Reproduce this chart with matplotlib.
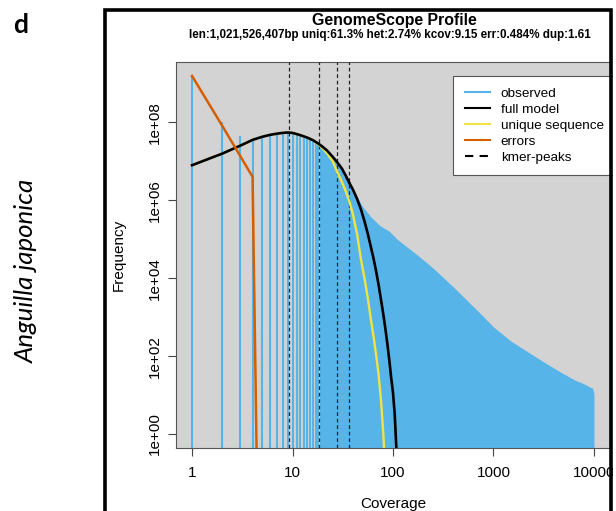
import matplotlib
matplotlib.use("Agg")
import matplotlib.pyplot as plt
from matplotlib.lines import Line2D
from matplotlib.patches import Rectangle

# ---- data -------------------------------------------------------------
# observed k-mer histogram, one bar per coverage value (low coverage)
obs_cov = list(range(1, 41))
obs_freq = [1.55e9, 1.0e8, 4.5e7, 3.4e7, 4.2e7, 4.7e7, 5.1e7, 5.4e7, 5.5e7, 5.4e7,
            5.1e7, 4.7e7, 4.4e7, 4.1e7, 3.7e7, 3.4e7, 3.1e7, 2.8e7, 2.6e7, 2.3e7,
            2.1e7, 1.9e7, 1.7e7, 1.5e7, 1.35e7, 1.2e7, 1.07e7, 9.5e6, 8.5e6, 7.4e6,
            6.6e6, 5.8e6, 5.0e6, 4.4e6, 3.8e6, 3.3e6, 2.9e6, 2.5e6, 2.15e6, 1.86e6]

# observed histogram envelope at high coverage (bars merge into a solid area)
tail_cov = [40, 45, 50, 60, 73, 92, 110, 136, 180, 232, 288, 400, 580, 750,
            1000, 1500, 2290, 3300, 4890, 6500, 7400, 8100, 9080, 9700, 10000]
tail_freq = [1.86e6, 1.1e6, 6.8e5, 3.8e5, 2.3e5, 1.6e5, 1.0e5, 6.5e4, 3.7e4, 2.15e4,
             1.3e4, 5.9e3, 2.3e3, 1.2e3, 560, 240, 120, 66, 36, 24, 21, 19, 16, 15, 11]

# fitted model curves
model_cov = [1, 2, 3, 4, 5, 6, 7, 8, 9, 10, 12, 14, 16, 18, 20, 22, 25, 28, 31, 34,
             37, 40, 44, 48, 52, 56, 60, 64, 68, 72, 76, 80, 84, 88, 92, 96, 100,
             104, 108, 112]
full_model = [7.94e6, 1.58e7, 2.51e7, 3.55e7, 4.27e7, 4.79e7, 5.13e7, 5.37e7, 5.50e7,
              5.37e7, 4.68e7, 4.07e7, 3.47e7, 2.88e7, 2.34e7, 1.91e7, 1.32e7, 9.3e6,
              6.5e6, 4.2e6, 2.7e6, 1.86e6, 1.07e6, 5.8e5, 2.9e5, 1.41e5, 6.6e4, 3.2e4,
              1.48e4, 6.6e3, 2.75e3, 1.2e3, 500, 200, 76, 27, 11.5, 3.2, 0.43, 0.05]
unique_seq = [7.94e6, 1.58e7, 2.51e7, 3.55e7, 4.27e7, 4.79e7, 5.13e7, 5.37e7, 5.50e7,
              5.37e7, 4.68e7, 4.07e7, 3.47e7, 2.75e7, 2.14e7, 1.62e7, 1.02e7, 5.2e6,
              2.95e6, 1.66e6, 8.9e5, 4.2e5, 1.32e5, 3.0e4, 1.0e4, 3.2e3, 930, 320,
              105, 32, 7.1, 1.05, 0.1, 0.01, 0.001, 1e-4, 1e-5, 1e-6, 1e-7, 1e-8]

# error k-mers
err_cov = [1, 2, 3, 4, 5]
err_freq = [1.55e9, 8.1e7, 1.4e7, 4.0e6, 4e-11]

# k-mer peak positions (multiples of kcov)
peak_cov = [9.15, 18.3, 27.45, 36.6]

x_ticks = [1, 10, 100, 1000, 10000]
x_tick_labels = ["1", "10", "100", "1000", "10000"]
y_ticks = [1e0, 1e2, 1e4, 1e6, 1e8]
y_tick_labels = ["1e+00", "1e+02", "1e+04", "1e+06", "1e+08"]

title = "GenomeScope Profile"
subtitle = ("len:1,021,526,407bp uniq:61.3% het:2.74% kcov:9.15 "
            "err:0.484% dup:1.61")

# ---- style ------------------------------------------------------------
C_OBS = "#56B4E9"
C_FULL = "black"
C_UNIQ = "#F0E442"
C_ERR = "#D55E00"
BG = "#D3D3D3"

plt.rcParams["font.family"] = ["Liberation Sans", "DejaVu Sans"]

W, H = 616, 511
fig = plt.figure(figsize=(W / 100, H / 100), dpi=100)
fig.patch.set_facecolor("white")

# axes box in pixel units
ax_l, ax_r, ax_t, ax_b = 176, 610, 61.7, 448.3
ax = fig.add_axes([ax_l / W, 1 - ax_b / H, (ax_r - ax_l) / W, (ax_b - ax_t) / H])
ax.set_facecolor(BG)
ax.set_xscale("log")
ax.set_yscale("log")
ax.set_xlim(10 ** -0.16, 10 ** 4.16)
ax.set_ylim(10 ** -0.3676, 10 ** 9.5576)

floor = 1e-3
ax.vlines(obs_cov, floor, obs_freq, color=C_OBS, lw=1.5, zorder=2)
ax.fill_between(tail_cov, floor, tail_freq, color=C_OBS, lw=0, zorder=2)

for p in peak_cov:
    ax.axvline(p, color="#222222", lw=0.9, ls=(0, (3, 2.2)), zorder=3)

ax.plot(model_cov, unique_seq, color=C_UNIQ, lw=1.7, zorder=4,
        solid_joinstyle="round")
ax.plot(model_cov, full_model, color=C_FULL, lw=1.9, zorder=5,
        solid_joinstyle="round")
ax.plot(err_cov, err_freq, color=C_ERR, lw=1.8, zorder=6)

ax.set_xticks(x_ticks)
ax.set_xticklabels(x_tick_labels)
ax.set_yticks(y_ticks)
ax.set_yticklabels(y_tick_labels, rotation=90, va="center")
ax.minorticks_off()
ax.tick_params(axis="both", direction="out", length=5.5, width=0.8,
               color="#444444", labelsize=11, labelcolor="black")
ax.tick_params(axis="x", pad=7)
ax.tick_params(axis="y", pad=5)
for s in ax.spines.values():
    s.set_color("#555555")
    s.set_linewidth(0.8)

ax.set_xlabel("Coverage", fontsize=11)
ax.set_ylabel("Frequency", fontsize=11)
ax.xaxis.set_label_coords(0.5, (ax_b - 503.5) / (ax_b - ax_t))
ax.xaxis.label.set_va("center")
ax.yaxis.set_label_coords((119 - ax_l) / (ax_r - ax_l), 0.5)
ax.yaxis.label.set_va("center")

handles = [
    Line2D([], [], color=C_OBS, lw=1.5),
    Line2D([], [], color=C_FULL, lw=1.5),
    Line2D([], [], color=C_UNIQ, lw=1.5),
    Line2D([], [], color=C_ERR, lw=1.5),
    Line2D([], [], color="black", lw=1.5, ls=(0, (4, 3))),
]
labels = ["observed", "full model", "unique sequence", "errors", "kmer-peaks"]
leg = ax.legend(handles, labels, loc="upper left",
                bbox_to_anchor=((453.3 - ax_l) / (ax_r - ax_l),
                                (ax_b - 76) / (ax_b - ax_t)),
                borderaxespad=0, fontsize=9.7, handlelength=1.91,
                handletextpad=0.76, borderpad=0.85, labelspacing=0.26,
                fancybox=False, framealpha=1, edgecolor="#555555")
leg.get_frame().set_linewidth(0.8)
leg.set_zorder(10)

fig.text(394 / W, 1 - 20.7 / H, title, ha="center", va="center",
         fontsize=11.4, fontweight="bold")
fig.text(390 / W, 1 - 35 / H, subtitle, ha="center", va="center",
         fontsize=8.4, fontweight="bold")

# panel letter and species name
fig.text(21 / W, 1 - 25 / H, "d", ha="center", va="center",
         fontsize=19, fontweight="bold", family=["Lato", "DejaVu Sans"])
fig.text(26 / W, 1 - 271 / H, "Anguilla japonica", ha="center", va="center",
         rotation=90, fontsize=18.6, style="italic", family=["Lato", "DejaVu Sans"])

# white margin beyond the panel frame, then the frame itself
fig.add_artist(Rectangle((612.5 / W, 0), (W - 612.5) / W, 1,
                         transform=fig.transFigure, facecolor="white",
                         edgecolor="none", zorder=20))
fig.add_artist(Rectangle((104.7 / W, -0.05), (611.3 - 104.7) / W,
                         1.05 - 10.5 / H, transform=fig.transFigure,
                         fill=False, edgecolor="black", lw=2.6, zorder=21))

fig.savefig("out.png", dpi=100)
